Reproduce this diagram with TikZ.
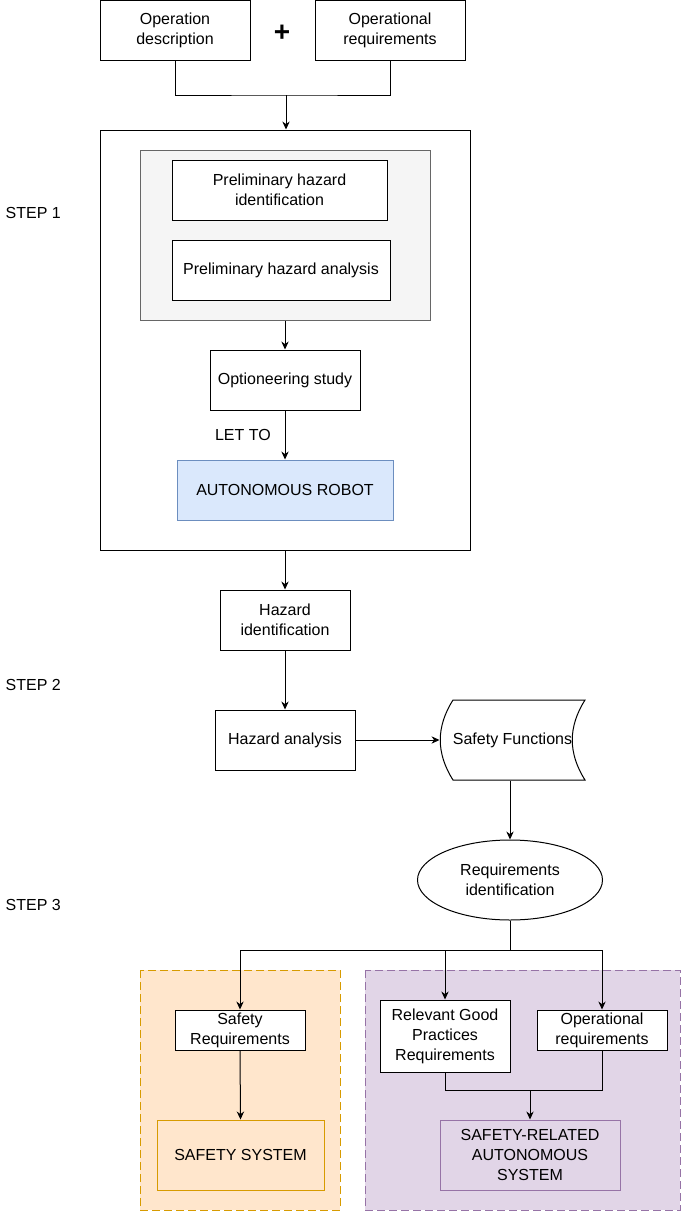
\documentclass[tikz,border=0pt]{standalone}
\usepackage{fontspec}
\setmainfont{Liberation Sans}
\usetikzlibrary{arrows.meta,shapes.geometric}
\definecolor{greyfill}{HTML}{F5F5F5}
\definecolor{greyline}{HTML}{666666}
\definecolor{bluefill}{HTML}{DAE8FC}
\definecolor{blueline}{HTML}{6C8EBF}
\definecolor{orangefill}{HTML}{FFE6CC}
\definecolor{orangeline}{HTML}{D79B00}
\definecolor{purplefill}{HTML}{E1D5E7}
\definecolor{purpleline}{HTML}{9673A6}
\tikzset{
    box/.style={draw, fill=white, line width=0.75pt, align=center, inner sep=0pt, font=\fontsize{12}{15}\selectfont},
    lbl/.style={font=\fontsize{12}{15}\selectfont},
    arr/.style={line width=0.75pt, -{Stealth[length=6pt,width=5.5pt]}},
    link/.style={line width=0.75pt},
    region/.style={line width=0.75pt, dash pattern=on 6pt off 3pt}
}
\begin{document}
\begin{tikzpicture}[x=0.75pt, y=-0.75pt]
    \useasboundingbox (0,0) rectangle (681,1211);
    \fill[white] (0,0) rectangle (681,1211);
    \node[box, minimum width=112.5pt, minimum height=45pt] (opdesc) at (175,30) {Operation\\description};
    \node[box, minimum width=112.5pt, minimum height=45pt] (opreq) at (390,30) {Operational\\requirements};
    \node[font=\fontsize{21}{21}\selectfont\bfseries] (plus) at (282,33) {+};
    \node[box, minimum width=277.5pt, minimum height=315pt] (step1) at (285,340) {};
    \node[box, fill=greyfill, draw=greyline, minimum width=217.5pt, minimum height=127.5pt] (grey) at (285,235) {};
    \node[box, minimum width=161.25pt, minimum height=45pt] (prehi) at (279.5,190) {Preliminary hazard\\identification};
    \node[box, minimum width=163.5pt, minimum height=45pt] (preha) at (281,270) {Preliminary hazard analysis};
    \node[box, minimum width=112.5pt, minimum height=45pt] (opt) at (285,380) {Optioneering study};
    \node[box, fill=bluefill, draw=blueline, minimum width=162pt, minimum height=45pt] (robot) at (285,490) {AUTONOMOUS ROBOT};
    \node[box, minimum width=97.5pt, minimum height=45pt] (hazid) at (285,620) {Hazard\\identification};
    \node[box, minimum width=105pt, minimum height=45pt] (hazan) at (285,740) {Hazard analysis};
    \draw[link, fill=white] (453,700) -- (585,700) .. controls (568,727) and (568,753) .. (585,780)
        -- (453,780) .. controls (436,753) and (436,727) .. (453,700) -- cycle;
    \node[box, draw=none, fill=none, minimum width=108.75pt, minimum height=60pt] (safefun) at (512.5,740) {Safety Functions};
    \node[box, ellipse, minimum width=138.75pt, minimum height=60pt] (reqid) at (510,880) {Requirements\\identification};
    \node[lbl, anchor=west] (step1lbl) at (1,213) {STEP 1};
    \node[lbl, anchor=west] (step2lbl) at (1,685) {STEP 2};
    \node[lbl, anchor=west] (step3lbl) at (1,905) {STEP 3};
    \draw[region, fill=orangefill, draw=orangeline] (140,970) rectangle (340,1210);
    \draw[region, fill=purplefill, draw=purpleline] (365,970) rectangle (680,1210);
    \node[box, minimum width=97.5pt, minimum height=30pt] (safereq) at (240,1030) {Safety\\Requirements};
    \node[box, fill=orangefill, draw=orangeline, minimum width=125.25pt, minimum height=52.5pt] (safesys) at (240.5,1155) {SAFETY SYSTEM};
    \node[box, minimum width=97.5pt, minimum height=54pt] (goodreq) at (445,1036) {Relevant Good\\Practices\\Requirements};
    \node[box, minimum width=97.5pt, minimum height=30pt] (opreq2) at (602,1030) {Operational\\requirements};
    \node[box, fill=purplefill, draw=purpleline, minimum width=135pt, minimum height=52.5pt] (sras) at (530,1155) {SAFETY-RELATED\\AUTONOMOUS\\SYSTEM};
    \coordinate (merge) at (286,95);
    \coordinate (split) at (510,950);
    \coordinate (join) at (530,1090);
    \draw[link] (opdesc.south) |- (merge) -| (opreq.south);
    \draw[arr] (merge) -- (merge |- step1.north);
    \draw[arr] (grey.south) -- (opt.north);
    \draw[arr] (opt.south) -- node[lbl, left=7pt] {LET TO} (robot.north);
    \draw[arr] (step1.south) -- (hazid.north);
    \draw[arr] (hazid.south) -- (hazan.north);
    \draw[arr] (hazan.east) -- (safefun.west);
    \draw[arr] (reqid.north |- safefun.south) -- (reqid.north);
    \draw[link] (reqid.south) -- (split);
    \draw[arr] (split) -| (safereq.north);
    \draw[arr] (split) -| (goodreq.north);
    \draw[arr] (split) -| (opreq2.north);
    \draw[arr] (safereq.south) -- (safesys.north);
    \draw[link] (goodreq.south) |- (join) -| (opreq2.south);
    \draw[arr] (join) -- (sras.north);
\end{tikzpicture}
\end{document}
